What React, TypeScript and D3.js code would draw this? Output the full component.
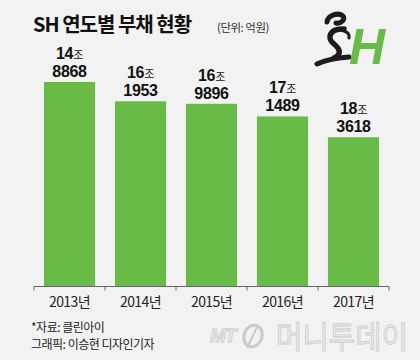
import React from "react";
import * as d3 from "d3";

const years = ["2013년", "2014년", "2015년", "2016년", "2017년"];
// bar heights as drawn (억원)
const barValues = [183618, 171489, 169896, 161953, 148868];
// value labels as printed above each bar
const labelJo = ["14", "16", "16", "17", "18"];
const labelEok = ["8868", "1953", "9896", "1489", "3618"];

const W = 420;
const H = 360;
const GREEN = "#68bb46";
const NUM_FONT = "'Liberation Sans Narrow', 'Liberation Sans', Arial, sans-serif";
const KR_FONT = "'Noto Sans CJK KR', 'Noto Sans', sans-serif";

export default function App() {
  const x = d3.scaleBand<string>().domain(years).range([34, 389]).paddingInner(0.28).paddingOuter(0.14);
  const y = d3.scaleLinear().domain([54600, 183618]).range([287, 82]);
  const baseY = 286.5;
  const tickXs = [...years.map((yr) => (x(yr) as number) - (x.step() - x.bandwidth()) / 2), 389];

  return (
    <svg width={W} height={H} style={{ position: "absolute", left: 0, top: 0, display: "block" }}>
      <rect x={0} y={0} width={W} height={H} fill="#f2f2f2" />
      {/* title */}
      <text x={33} y={32} fontFamily={KR_FONT} fontWeight={700} fontSize={20} letterSpacing={-1} fill="#111">
        SH 연도별 부채 현황
      </text>
      <text x={217} y={32} fontFamily={KR_FONT} fontSize={11.5} letterSpacing={-0.5} fill="#333">
        (단위: 억원)
      </text>
      {/* logo */}
      <g>
        <path d="M327,22 C328,15 338,12 343,16 C346,19 341,24 336,23" fill="none" stroke="#1c1c1c" strokeWidth={5} strokeLinecap="round" />
        <path d="M344,29 C330,28 326,38 334,44 C340,49 342,54 334,58" fill="none" stroke="#1c1c1c" strokeWidth={5.5} strokeLinecap="round" />
        <path d="M317,64 C325,60 336,58 349,57" fill="none" stroke="#1c1c1c" strokeWidth={5} strokeLinecap="round" />
        <path d="M340,30 C346,31 350,33 349,38" fill="none" stroke="#1c1c1c" strokeWidth={3} strokeLinecap="round" />
        <text x={349} y={64} fontFamily="'Liberation Sans', Arial, sans-serif" fontStyle="italic" fontWeight={700} fontSize={50} fill={GREEN}>
          H
        </text>
      </g>
      {/* bars */}
      {barValues.map((v, i) => (
        <rect key={i} x={x(years[i])} y={y(v)} width={x.bandwidth()} height={287 - y(v)} fill={GREEN} />
      ))}
      {/* value labels */}
      {barValues.map((v, i) => {
        const cx = (x(years[i]) as number) + x.bandwidth() / 2;
        const top = y(v);
        return (
          <g key={i} fill="#111" textAnchor="middle">
            <text x={cx} y={top - 5} fontFamily={NUM_FONT} fontWeight={700} fontSize={16} letterSpacing={-0.3}>
              {labelEok[i]}
            </text>
            <text x={cx} y={top - 23} fontFamily={NUM_FONT} fontWeight={700} fontSize={16} letterSpacing={-0.3}>
              {labelJo[i]}
              <tspan fontFamily={KR_FONT} fontWeight={400} fontSize={11}>조</tspan>
            </text>
          </g>
        );
      })}
      {/* axis */}
      <line x1={34} x2={389} y1={baseY} y2={baseY} stroke="#666" strokeWidth={1} />
      {tickXs.map((tx, i) => (
        <line key={i} x1={tx} x2={tx} y1={baseY} y2={baseY + 4} stroke="#666" strokeWidth={1} />
      ))}
      {years.map((yr) => (
        <text key={yr} x={(x(yr) as number) + x.bandwidth() / 2} y={307} textAnchor="middle" fontFamily={KR_FONT} fontSize={14} letterSpacing={-0.6} fill="#222">
          {yr}
        </text>
      ))}
      {/* source */}
      <text x={31} y={332} fontFamily={KR_FONT} fontSize={12} fill="#222" letterSpacing={-0.5}>
        *자료: 클린아이
      </text>
      <text x={31} y={349} fontFamily={KR_FONT} fontSize={12} fill="#222" letterSpacing={-0.5}>
        그래픽: 이승현 디자인기자
      </text>
      {/* watermark */}
      <g fill="#ececec" stroke="#cacaca" strokeWidth={0.8}>
        <text x={210} y={342} fontFamily="'Liberation Sans', Arial, sans-serif" fontStyle="italic" fontWeight={700} fontSize={19} letterSpacing={-1}>
          MT
        </text>
        <ellipse cx={253} cy={336} rx={9} ry={11} transform="rotate(20 253 336)" fill="none" stroke="#cacaca" strokeWidth={3} />
        <line x1={258} y1={325} x2={247} y2={348} stroke="#cacaca" strokeWidth={2} />
        <text x={276} y={348} fontFamily={KR_FONT} fontSize={31} textLength={132} lengthAdjust="spacingAndGlyphs">
          머니투데이
        </text>
      </g>
    </svg>
  );
}
